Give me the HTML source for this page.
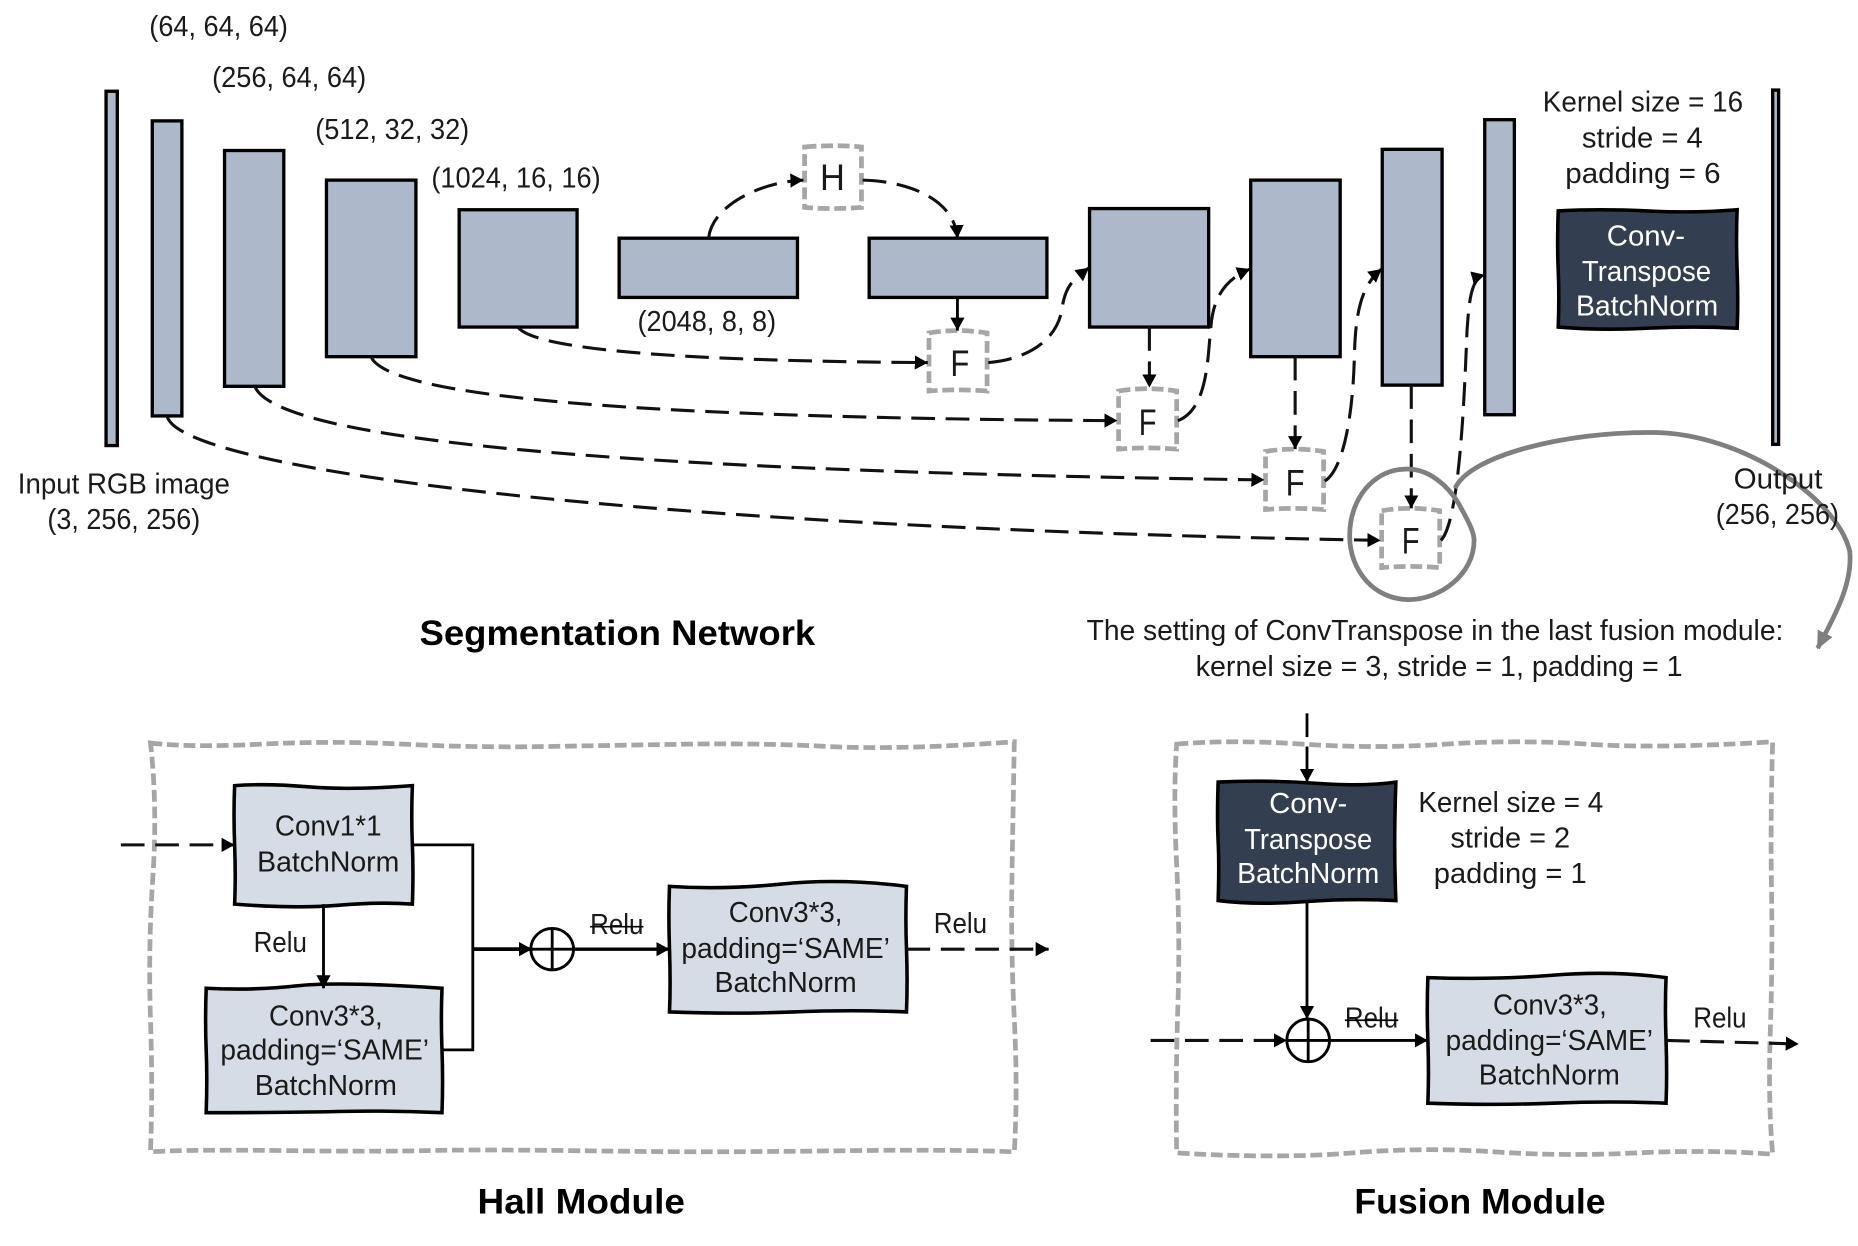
<!DOCTYPE html>
<html><head><meta charset="utf-8"><style>
html,body{margin:0;padding:0;background:#fff}
svg{display:block}
text{font-family:"Liberation Sans","Noto Sans CJK SC",sans-serif;font-size:24px;fill:#1a1a1a;text-anchor:start;transform:translateY(-0.7px)}
.b{font-weight:bold;font-size:30px;fill:#000}
.w{fill:#fff}
.bar{fill:#adb9ca;stroke:#000;stroke-width:2.8}
.lt{fill:#d6dce5;stroke:#000;stroke-width:3}
.dk{fill:#333f50;stroke:#000;stroke-width:3}
.g{fill:none;stroke:#a6a6a6;stroke-width:4;stroke-dasharray:10 4}
.d{fill:none;stroke:#111;stroke-width:2.6;stroke-dasharray:20 9;marker-end:url(#a)}
.s{fill:none;stroke:#000;stroke-width:2.4}
.sa{fill:none;stroke:#000;stroke-width:2.4;marker-end:url(#a)}
</style></head><body>
<svg xmlns="http://www.w3.org/2000/svg" width="1858" height="1246" viewBox="0 0 1568 1051.5">
<defs>
<marker id="a" markerUnits="userSpaceOnUse" markerWidth="14" markerHeight="14" refX="11" refY="7" orient="auto"><path d="M0,1 L11,7 L0,13 Z" fill="#000"/></marker>
<marker id="ga" markerUnits="userSpaceOnUse" markerWidth="18" markerHeight="18" refX="14" refY="8" orient="auto"><path d="M0,1 L15,8 L0,15 Z" fill="#7f7f7f"/></marker>
</defs>
<rect width="1568" height="1051.5" fill="#fff"/>

<!-- bars -->
<rect class="bar" x="89.5" y="77" width="9.5" height="299"/>
<rect class="bar" x="128.5" y="102" width="25" height="249"/>
<rect class="bar" x="189.5" y="127" width="50" height="199"/>
<rect class="bar" x="275.5" y="152" width="75.5" height="149"/>
<rect class="bar" x="387.5" y="177" width="99.5" height="99"/>
<rect class="bar" x="522.5" y="201" width="150.5" height="50"/>
<rect class="bar" x="733.5" y="201" width="150" height="50"/>
<rect class="bar" x="919.5" y="176" width="100.5" height="100"/>
<rect class="bar" x="1055.5" y="152" width="75.5" height="149"/>
<rect class="bar" x="1166.5" y="126" width="50.5" height="199"/>
<rect class="bar" x="1253" y="101" width="25" height="249"/>
<rect class="bar" x="1496" y="76" width="5" height="299"/>

<!-- dark top box -->
<path class="dk" d="M1315,178 Q1350,176 1390,178 T1466,177 Q1465,200 1466,228 T1466,277 Q1430,275 1390,277 T1315,276 Q1316,250 1315,228 T1315,178 Z"/>

<!-- F / H boxes -->
<path class="g" d="M679,124 Q703,122 727,124 L727,175 Q703,177 679,175 Z"/>
<path class="g" d="M784,281 Q808,277 833,281 L833,330 Q808,328 784,330 Z"/>
<path class="g" d="M944,330 Q968,326 993,330 L993,379 Q968,377 944,379 Z"/>
<path class="g" d="M1068,381 Q1092,377 1117,381 L1117,430 Q1092,428 1068,430 Z"/>
<path class="g" d="M1166,431 Q1190,427 1215,431 L1215,479 Q1190,477 1166,479 Z"/>

<!-- skip curves -->
<path class="d" d="M141,351 C150,395 520,445 1165,456"/>
<path class="d" d="M215,326 C235,375 560,398 1067,405"/>
<path class="d" d="M313,301 C330,340 600,353 943,355"/>
<path class="d" d="M437,276 C455,300 640,305 783,306"/>
<path class="d" d="M598,201 C601,172 645,153 678,152"/>
<path class="d" d="M728,152 C770,153 806,170 808,201"/>
<path class="sa" d="M808,251 L808,279"/>
<path class="d" d="M834,306 C870,303 892,285 896,262 C899,240 906,236 919,226"/>
<path class="d" d="M994,355 C1020,345 1019,300 1022,275 C1024,250 1035,235 1055,227" />
<path class="d" d="M1118,406 C1135,395 1142,345 1143,300 C1144,260 1150,240 1166,227"/>
<path class="d" d="M1216,456 C1232,440 1236,330 1238,280 C1240,250 1242,235 1253,232"/>
<path class="d" d="M970,276 L970,327"/>
<path class="d" d="M1093,301 L1093,379"/>
<path class="d" d="M1191,325 L1191,429"/>

<!-- gray callout -->
<path d="M1184,396 C1205,394 1222,410 1231,425 C1238,438 1244,448 1244,456 C1244,485 1215,506 1189,506 C1160,506 1139,482 1139,452 C1139,420 1160,397 1184,396 Z" fill="none" stroke="#7f7f7f" stroke-width="4"/>
<path d="M1228,412 C1240,385 1320,364 1396,365 C1470,366 1550,420 1561,465 C1564,495 1545,525 1534,547" fill="none" stroke="#7f7f7f" stroke-width="4" marker-end="url(#ga)"/>

<!-- top text -->
<text x="126" y="31" textLength="117" lengthAdjust="spacingAndGlyphs">(64, 64, 64)</text>
<text x="179" y="74" textLength="130" lengthAdjust="spacingAndGlyphs">(256, 64, 64)</text>
<text x="266" y="118" textLength="130" lengthAdjust="spacingAndGlyphs">(512, 32, 32)</text>
<text x="364" y="159" textLength="143" lengthAdjust="spacingAndGlyphs">(1024, 16, 16)</text>
<text x="538" y="280" textLength="117" lengthAdjust="spacingAndGlyphs">(2048, 8, 8)</text>
<text x="15" y="417" textLength="179" lengthAdjust="spacingAndGlyphs">Input RGB image</text>
<text x="40" y="447" textLength="129" lengthAdjust="spacingAndGlyphs">(3, 256, 256)</text>
<text x="1463" y="413" textLength="75" lengthAdjust="spacingAndGlyphs">Output</text>
<text x="1448" y="443" textLength="104" lengthAdjust="spacingAndGlyphs">(256, 256)</text>
<text x="1302" y="95" textLength="169" lengthAdjust="spacingAndGlyphs">Kernel size = 16</text>
<text x="1335" y="125" textLength="102" lengthAdjust="spacingAndGlyphs">stride = 4</text>
<text x="1321" y="155" textLength="131" lengthAdjust="spacingAndGlyphs">padding = 6</text>
<text class="w" x="1356" y="208" textLength="66" lengthAdjust="spacingAndGlyphs">Conv-</text>
<text class="w" x="1335" y="238" textLength="109" lengthAdjust="spacingAndGlyphs">Transpose</text>
<text class="w" x="1330" y="267" textLength="120" lengthAdjust="spacingAndGlyphs">BatchNorm</text>
<text x="692" y="161" style="font-size:31px" textLength="21" lengthAdjust="spacingAndGlyphs">H</text>
<text x="802" y="318" style="font-size:31px" textLength="16" lengthAdjust="spacingAndGlyphs">F</text>
<text x="961" y="368" style="font-size:31px" textLength="15" lengthAdjust="spacingAndGlyphs">F</text>
<text x="1085" y="419" style="font-size:31px" textLength="16" lengthAdjust="spacingAndGlyphs">F</text>
<text x="1183" y="468" style="font-size:31px" textLength="15" lengthAdjust="spacingAndGlyphs">F</text>
<text class="b" x="354" y="545" textLength="334" lengthAdjust="spacingAndGlyphs">Segmentation Network</text>
<text x="917" y="541" textLength="588" lengthAdjust="spacingAndGlyphs">The setting of ConvTranspose in the last fusion module:</text>
<text x="1009" y="571" textLength="411" lengthAdjust="spacingAndGlyphs">kernel size = 3, stride = 1, padding = 1</text>

<!-- Hall module -->
<path class="g" d="M127,627 Q160,631 220,628 T340,628 T460,630 T580,628 T700,630 T856,626 Q855,680 854,740 T856,860 T856,972 Q800,970 720,971 T600,972 T480,971 T360,971 T240,971 T127,972 Q129,920 127,860 T129,740 T127,627 Z"/>
<path class="lt" d="M198,663 Q225,661 260,664 T348,663 Q347,690 348,713 T348,763 Q320,761 285,764 T198,763 Q199,740 198,713 T198,663 Z"/>
<path class="lt" d="M174,834 Q215,836 250,832 T373,834 Q372,860 373,886 T373,939 Q330,937 285,938 T174,939 Q175,910 174,886 T174,834 Z"/>
<path class="lt" d="M565,748 Q610,751 660,746 T765,748 Q764,775 765,801 T765,854 Q720,852 670,854 T565,854 Q566,830 565,801 T565,748 Z"/>
<path class="s" d="M348,713 L399,713 L399,886 L373,886"/>
<path class="sa" d="M273,763 L273,834"/>
<path class="sa" d="M399,801 L449,801" style="stroke-width:3.2"/>
<path class="sa" d="M484,801 L565,801" style="stroke-width:2.8"/>
<path class="d" d="M102,713 L198,713"/>
<path class="d" d="M765,801 L885,801"/>
<ellipse cx="466" cy="801" rx="18" ry="17.5" fill="none" stroke="#000" stroke-width="2.4"/>
<path class="s" d="M448,801 H484 M466,783 V819"/>
<text x="232" y="706" textLength="90" lengthAdjust="spacingAndGlyphs">Conv1*1</text>
<text x="217" y="736" textLength="120" lengthAdjust="spacingAndGlyphs">BatchNorm</text>
<text x="227" y="866" textLength="96" lengthAdjust="spacingAndGlyphs">Conv3*3,</text>
<text x="186" y="895" textLength="176" lengthAdjust="spacingAndGlyphs">padding=‘SAME’</text>
<text x="215" y="925" textLength="120" lengthAdjust="spacingAndGlyphs">BatchNorm</text>
<text x="615" y="779" textLength="96" lengthAdjust="spacingAndGlyphs">Conv3*3,</text>
<text x="575" y="809" textLength="176" lengthAdjust="spacingAndGlyphs">padding=‘SAME’</text>
<text x="603" y="838" textLength="120" lengthAdjust="spacingAndGlyphs">BatchNorm</text>
<text x="214" y="804" textLength="45" lengthAdjust="spacingAndGlyphs">Relu</text>
<text x="498" y="789" textLength="45" lengthAdjust="spacingAndGlyphs">Relu</text>
<path class="s" d="M498,782 H543" style="stroke-width:1.4"/>
<text x="788" y="788" textLength="45" lengthAdjust="spacingAndGlyphs">Relu</text>
<text class="b" x="403" y="1025" textLength="175" lengthAdjust="spacingAndGlyphs">Hall Module</text>

<!-- Fusion module -->
<path class="g" d="M993,628 Q1040,624 1100,628 T1220,628 T1340,628 T1496,626 Q1494,690 1495,750 T1494,870 T1496,974 Q1440,970 1380,973 T1260,972 T1140,973 T993,973 Q992,910 994,850 T993,730 T993,628 Z"/>
<path class="s" d="M1103,602 L1103,622"/>
<path class="sa" d="M1103,630 L1103,660"/>
<path class="dk" d="M1028,660 Q1070,658 1110,661 T1178,660 Q1177,690 1177,713 T1178,760 Q1140,758 1100,761 T1028,760 Q1029,730 1028,710 T1028,660 Z"/>
<path class="sa" d="M1103,760 L1103,860"/>
<ellipse cx="1104" cy="878" rx="18" ry="18" fill="none" stroke="#000" stroke-width="2.4"/>
<path class="s" d="M1086,878 H1122 M1104,860 V896"/>
<path class="d" d="M971,878 L1086,878"/>
<path class="sa" d="M1122,878 L1205,878"/>
<path class="lt" d="M1205,825 Q1260,827 1310,823 T1406,825 Q1405,850 1406,878 T1406,931 Q1360,929 1310,931 T1205,931 Q1206,905 1205,878 T1205,825 Z"/>
<path class="d" d="M1406,878 L1518,881"/>
<text class="w" x="1071" y="687" textLength="66" lengthAdjust="spacingAndGlyphs">Conv-</text>
<text class="w" x="1050" y="717" textLength="108" lengthAdjust="spacingAndGlyphs">Transpose</text>
<text class="w" x="1044" y="746" textLength="120" lengthAdjust="spacingAndGlyphs">BatchNorm</text>
<text x="1197" y="686" textLength="156" lengthAdjust="spacingAndGlyphs">Kernel size = 4</text>
<text x="1224" y="716" textLength="101" lengthAdjust="spacingAndGlyphs">stride = 2</text>
<text x="1210" y="746" textLength="129" lengthAdjust="spacingAndGlyphs">padding = 1</text>
<text x="1260" y="857" textLength="96" lengthAdjust="spacingAndGlyphs">Conv3*3,</text>
<text x="1220" y="887" textLength="175" lengthAdjust="spacingAndGlyphs">padding=‘SAME’</text>
<text x="1248" y="916" textLength="119" lengthAdjust="spacingAndGlyphs">BatchNorm</text>
<text x="1135" y="868" textLength="45" lengthAdjust="spacingAndGlyphs">Relu</text>
<path class="s" d="M1135,861 H1180" style="stroke-width:1.4"/>
<text x="1429" y="868" textLength="45" lengthAdjust="spacingAndGlyphs">Relu</text>
<text class="b" x="1143" y="1025" textLength="212" lengthAdjust="spacingAndGlyphs">Fusion Module</text>
</svg>
</body></html>
